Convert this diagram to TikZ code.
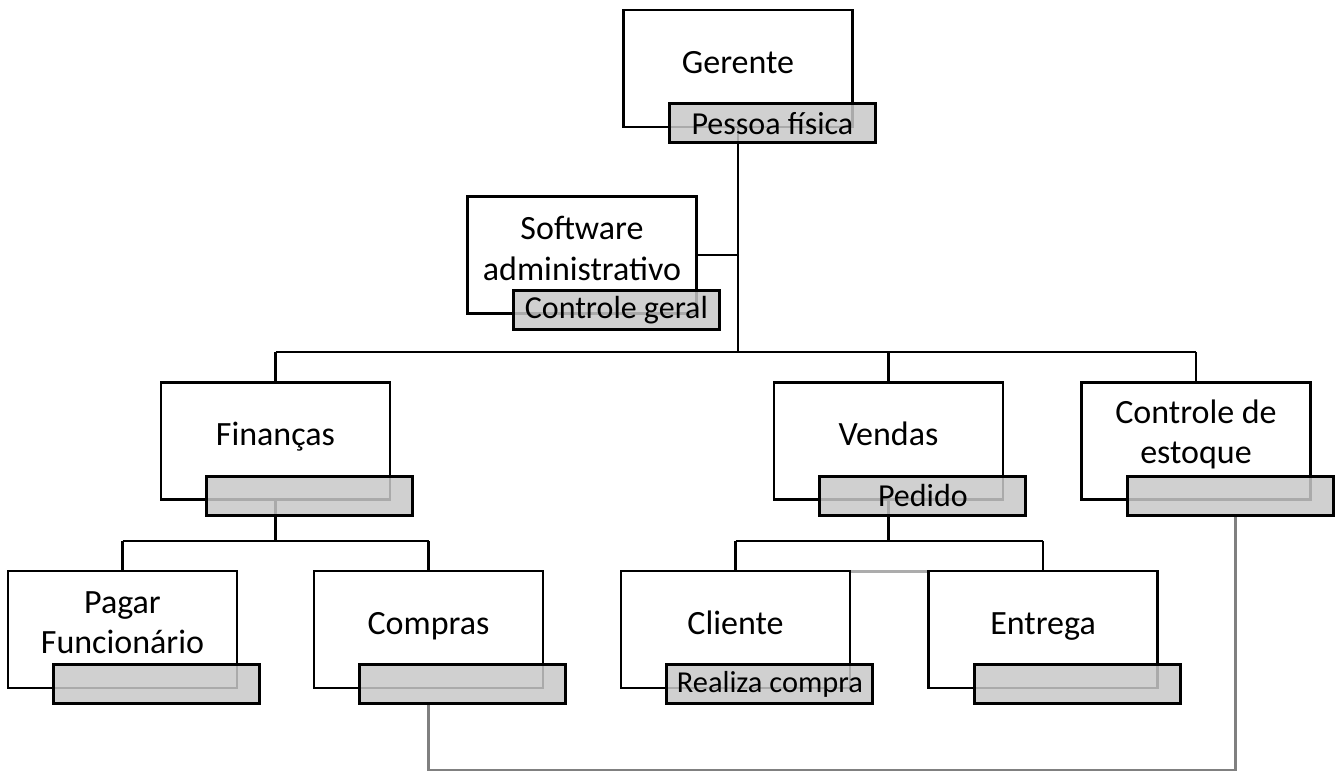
\documentclass[tikz,border=0pt]{standalone}
\usepackage{fontspec}
\setmainfont{Carlito}
\usetikzlibrary{positioning}
\definecolor{taggray}{RGB}{200,200,200}
\tikzset{
  unit/.style={draw, line width=2pt, minimum width=171.75pt, minimum height=87.75pt, inner sep=0pt},
  unitfont/.style={font=\fontsize{25.5}{30.5}\selectfont},
  unittext/.style={unitfont, text height=19pt, text depth=6pt, yshift=3pt},
  unitpair/.style={unitfont, align=center, yshift=5pt},
  tag/.style={draw, line width=2.2pt, fill=taggray, fill opacity=0.85, text opacity=1,
    minimum width=154.5pt, minimum height=29.25pt, inner sep=0pt, anchor=north east,
    font=\fontsize{24}{28}\selectfont},
  branch/.style={line width=2pt},
  faint/.style={line width=1.7pt, color=gray},
}
\begin{document}
\begin{tikzpicture}[x=0.75pt, y=-0.75pt]
                %\draw[help lines] (0,0) grid (1339,773);
                \useasboundingbox (0,0) rectangle (1339,773);
                \coordinate (bus1) at (0,352);
                \coordinate (bus2) at (0,541);
                \coordinate (floor) at (0,770);
                % boxes
                \node[unit] (gerente) at (738,68.5) {};
                \node[unit] (software) at (582,255) {};
                \node[unit] (financas) at (275.5,441) {};
                \node[unit] (vendas) at (888.5,441) {};
                \node[unit] (estoque) at (1196,441) {};
                \node[unit] (pagar) at (122.5,629.5) {};
                \node[unit] (compras) at (428.5,629.5) {};
                \node[unit] (cliente) at (735.5,629.5) {};
                \node[unit] (entrega) at (1043,629.5) {};
                \node[unittext] (gerente-t) at (gerente) {Gerente};
                \node[unitpair] (software-t) at (software) {Software\\administrativo};
                \node[unittext] (financas-t) at (financas) {Finanças};
                \node[unittext] (vendas-t) at (vendas) {Vendas};
                \node[unitpair] (estoque-t) at (estoque) {Controle de\\estoque};
                \node[unitpair] (pagar-t) at (pagar) {Pagar\\Funcionário};
                \node[unittext] (compras-t) at (compras) {Compras};
                \node[unittext] (cliente-t) at (cliente) {Cliente};
                \node[unittext] (entrega-t) at (entrega) {Entrega};
                % connectors
                \draw[branch] (gerente.south) -- (gerente |- bus1);
                \draw[branch] (software.east) -- (software.east -| gerente);
                \draw[branch] (financas |- bus1) -- (estoque |- bus1);
                \foreach \n in {financas,vendas,estoque}
                    \draw[branch] (\n |- bus1) -- (\n.north);
                \draw[branch] (financas.south) -- (financas |- bus2);
                \draw[branch] (pagar |- bus2) -- (compras |- bus2);
                \draw[branch] (vendas.south) -- (vendas |- bus2);
                \draw[branch] (cliente |- bus2) -- (entrega |- bus2);
                \foreach \n in {pagar,compras,cliente,entrega}
                    \draw[branch] (\n |- bus2) -- (\n.north);
                \draw[faint, color=gray!65, line width=2.2pt] ([yshift=-1.5pt]cliente.north east) -- ([yshift=-1.5pt]entrega.north west);
                % tags
                \node[tag] (gerente-l) at ([shift={(23,-26)}]gerente.south east) {Pessoa física};
                \node[tag] (software-l) at ([shift={(23,-26)}]software.south east) {Controle geral};
                \node[tag] (financas-l) at ([shift={(23,-26)}]financas.south east) {};
                \node[tag] (vendas-l) at ([shift={(23,-26)}]vendas.south east) {Pedido};
                \node[tag] (estoque-l) at ([shift={(23,-26)}]estoque.south east) {};
                \node[tag] (pagar-l) at ([shift={(23,-26)}]pagar.south east) {};
                \node[tag] (compras-l) at ([shift={(23,-26)}]compras.south east) {};
                \node[tag, font=\fontsize{22.8}{27}\selectfont] (cliente-l) at ([shift={(23,-26)}]cliente.south east) {Realiza compra};
                \node[tag] (entrega-l) at ([shift={(23,-26)}]entrega.south east) {};
                \coordinate (stockin) at ([xshift=3.75pt]estoque-l.south);
                \draw[faint] (compras-l.south -| compras) -- (compras |- floor) -- (stockin |- floor) -- (stockin);
            \end{tikzpicture}
\end{document}
